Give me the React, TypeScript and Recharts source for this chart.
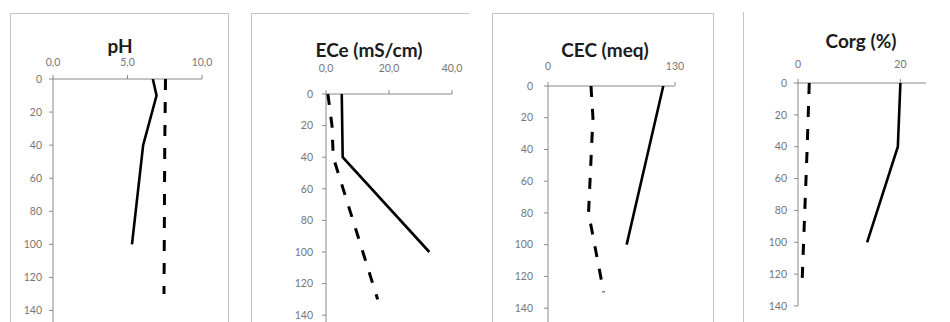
import React from "react";
import { ScatterChart, Scatter, XAxis, YAxis } from "recharts";

// ---- data ----
const depthTicks = [0, 20, 40, 60, 80, 100, 120, 140];

const phSolidDepth = [0, 10, 40, 100];
const phSolidVal = [6.7, 6.95, 6.05, 5.3];
const phDashDepth = [0, 40, 130];
const phDashVal = [7.55, 7.5, 7.45];
const phTicks = [0, 5, 10];

const eceSolidDepth = [0, 40, 100];
const eceSolidVal = [5.0, 5.3, 32.8];
const eceDashDepth = [0, 20, 40, 130];
const eceDashVal = [0.6, 1.9, 2.3, 16.4];
const eceTicks = [0, 20, 40];

const cecSolidDepth = [0, 40, 100];
const cecSolidVal = [118, 103, 80.5];
const cecDashDepth = [0, 20, 80, 130];
const cecDashVal = [44, 46, 41.5, 57];
const cecTicks = [0, 130];

const corgSolidDepth = [0, 40, 100];
const corgSolidVal = [20.0, 19.5, 13.5];
const corgDashDepth = [0, 40, 125];
const corgDashVal = [2.2, 1.8, 0.8];
const corgTicks = [0, 20];

const titles = ["pH", "ECe (mS/cm)", "CEC (meq)", "Corg (%)"];

const zip = (d: number[], v: number[]) => d.map((dd, i) => ({ d: dd, v: v[i] }));

const noShape = () => <g />;

const tickStyle = { fontSize: 10.5, fill: "#767676", fontFamily: "Lato, 'Open Sans', sans-serif" };
const axisStroke = "#8a8a8a";

type PanelProps = {
  plotL: number;
  plotR: number;
  plotT: number;
  plotB: number;
  xDomain: [number, number];
  xTicks: number[];
  yDomain: [number, number];
  yTicks: number[];
  fmt: (v: number) => string;
  xMargin: number;
  yMargin: number;
  solid: { d: number; v: number }[];
  dash: { d: number; v: number }[];
};

const YW = 60;
const XH = 40;
const MR = 24;
const MB = 6;

function Panel(p: PanelProps) {
  const width = YW + (p.plotR - p.plotL) + MR;
  const height = XH + (p.plotB - p.plotT) + MB;
  return (
    <div style={{ position: "absolute", left: p.plotL - YW, top: p.plotT - XH }}>
      <ScatterChart width={width} height={height} margin={{ top: 0, right: MR, bottom: MB, left: 0 }}>
        <XAxis
          type="number"
          dataKey="v"
          orientation="top"
          domain={p.xDomain}
          ticks={p.xTicks}
          tickFormatter={p.fmt}
          height={XH}
          stroke={axisStroke}
          tickSize={4}
          tickMargin={p.xMargin}
          tick={tickStyle}
          interval={0}
          allowDataOverflow
        />
        <YAxis
          type="number"
          dataKey="d"
          reversed
          domain={p.yDomain}
          ticks={p.yTicks}
          width={YW}
          stroke={axisStroke}
          tickSize={4}
          tickMargin={p.yMargin}
          tick={tickStyle}
          interval={0}
          allowDataOverflow
        />
        <Scatter
          data={p.solid}
          isAnimationActive={false}
          fill="#000"
          shape={noShape}
          line={{ stroke: "#000", strokeWidth: 2.6, fill: "none" }}
          lineType="joint"
        />
        <Scatter
          data={p.dash}
          isAnimationActive={false}
          fill="#000"
          shape={noShape}
          line={{ stroke: "#000", strokeWidth: 3, strokeDasharray: "11 12", fill: "none" }}
          lineType="joint"
        />
      </ScatterChart>
    </div>
  );
}

const fmt1 = (v: number) => v.toFixed(1).replace(".", ",");
const fmt0 = (v: number) => String(v);

const titleStyle = (cx: number, top: number): React.CSSProperties => ({
  position: "absolute",
  left: cx - 100,
  width: 200,
  top,
  textAlign: "center",
  fontFamily: "Lato, 'Open Sans', sans-serif",
  fontWeight: 700,
  fontSize: 19,
  lineHeight: "19px",
  color: "#1c1c1c",
  whiteSpace: "nowrap",
});

const border = "1px solid #c4c4c4";

export default function App() {
  return (
    <div
      style={{
        position: "absolute",
        left: 0,
        top: 0,
        width: 950,
        height: 322,
        overflow: "hidden",
        background: "#fff",
      }}
    >
      {/* frames */}
      <div style={{ position: "absolute", left: 10, top: 13, width: 217, height: 330, borderTop: border, borderLeft: border, borderRight: border }} />
      <div style={{ position: "absolute", left: 251, top: 13, width: 217, height: 330, borderTop: border, borderLeft: border }} />
      <div style={{ position: "absolute", left: 492, top: 13, width: 220, height: 330, borderTop: border, borderLeft: border, borderRight: border }} />
      <div style={{ position: "absolute", left: 743, top: 12, width: 1, height: 330, borderLeft: border }} />

      <div style={titleStyle(120, 36)}>{titles[0]}</div>
      <div style={titleStyle(369, 40)}>{titles[1]}</div>
      <div style={titleStyle(605, 40)}>{titles[2]}</div>
      <div style={titleStyle(861, 31)}>{titles[3]}</div>

      <Panel
        plotL={53}
        plotR={202}
        plotT={79}
        plotB={327}
        xDomain={[0, 10]}
        xTicks={phTicks}
        yDomain={[0, 150]}
        yTicks={depthTicks}
        fmt={fmt1}
        xMargin={9}
        yMargin={7}
        solid={zip(phSolidDepth, phSolidVal)}
        dash={zip(phDashDepth, phDashVal)}
      />
      <Panel
        plotL={326}
        plotR={452}
        plotT={94}
        plotB={331}
        xDomain={[0, 40]}
        xTicks={eceTicks}
        yDomain={[0, 150]}
        yTicks={depthTicks}
        fmt={fmt1}
        xMargin={18}
        yMargin={9}
        solid={zip(eceSolidDepth, eceSolidVal)}
        dash={zip(eceDashDepth, eceDashVal)}
      />
      <Panel
        plotL={548}
        plotR={675}
        plotT={86}
        plotB={324}
        xDomain={[0, 130]}
        xTicks={cecTicks}
        yDomain={[0, 150]}
        yTicks={depthTicks}
        fmt={fmt0}
        xMargin={12}
        yMargin={11}
        solid={zip(cecSolidDepth, cecSolidVal)}
        dash={zip(cecDashDepth, cecDashVal)}
      />
      <Panel
        plotL={798}
        plotR={926}
        plotT={83}
        plotB={306}
        xDomain={[0, 25]}
        xTicks={corgTicks}
        yDomain={[0, 140]}
        yTicks={depthTicks}
        fmt={fmt0}
        xMargin={11}
        yMargin={7}
        solid={zip(corgSolidDepth, corgSolidVal)}
        dash={zip(corgDashDepth, corgDashVal)}
      />
    </div>
  );
}
